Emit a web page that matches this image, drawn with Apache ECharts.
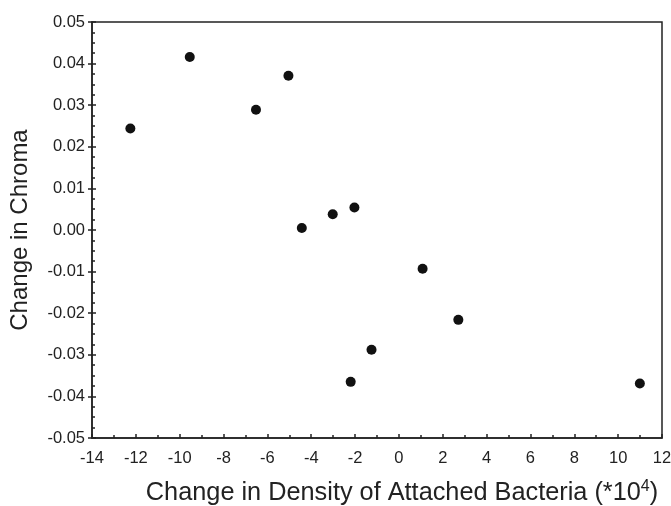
<!DOCTYPE html>
<html>
<head>
<meta charset="utf-8">
<script src="https://cdn.jsdelivr.net/npm/echarts@6/dist/echarts.min.js"></script>
<style>html,body{margin:0;padding:0;background:#fff}#c{width:671px;height:506px}</style>
</head>
<body>
<div id="c"></div>
<script>
const xValues = [-12.25, -9.54, -6.52, -5.04, -4.43, -3.02, -2.03, 1.08, 2.71, -1.25, -2.2, 10.99];
const yValues = [0.0244, 0.0416, 0.0289, 0.0371, 0.0005, 0.0038, 0.0054, -0.0093, -0.0216, -0.0288, -0.0365, -0.0369];
const xTitle = 'Change in Density of Attached Bacteria (*10';
const yTitle = 'Change in Chroma';

const points = xValues.map((x, i) => [x, yValues[i]]);
const font = '"Liberation Sans", Arial, sans-serif';
const ink = '#222';

const chart = echarts.init(document.getElementById('c'), null, {renderer: 'canvas'});
chart.setOption({
  animation: false,
  backgroundColor: '#fff',
  grid: {left: 92, right: 9, top: 22, bottom: 68, outerBoundsMode: 'none', containLabel: false,
    show: true, borderColor: ink, borderWidth: 1.5, backgroundColor: 'transparent'},
  xAxis: {
    type: 'value', min: -14, max: 12, interval: 2,
    name: xTitle + '{sup|4})', nameLocation: 'middle', nameGap: 41,
    nameTextStyle: {fontFamily: font, fontSize: 25.3, color: ink, padding: [0, 0, 0, 50],
      rich: {sup: {fontFamily: font, fontSize: 16, color: ink, padding: [0, 0, 13, 0]}}},
    axisLine: {show: true, onZero: false, lineStyle: {color: ink, width: 1.5}},
    axisTick: {show: true, inside: true, length: 4, lineStyle: {color: ink, width: 1.5}},
    minorTick: {show: true, splitNumber: 2, length: 3, lineStyle: {color: ink, width: 1.5}},
    axisLabel: {fontFamily: font, fontSize: 16.5, color: ink, margin: 12},
    splitLine: {show: false}
  },
  yAxis: [{
    type: 'value', min: -0.05, max: 0.05, interval: 0.01,
    name: yTitle, nameLocation: 'middle', nameGap: 60, nameRotate: 90,
    nameTextStyle: {fontFamily: font, fontSize: 24, color: ink},
    axisLine: {show: true, onZero: false, lineStyle: {color: ink, width: 1.5}},
    axisTick: {show: true, inside: false, length: 4, lineStyle: {color: ink, width: 1.5}},
    axisLabel: {fontFamily: font, fontSize: 16.5, color: ink, margin: 7,
      formatter: v => v.toFixed(2)},
    splitLine: {show: false}
  }, {
    type: 'value', min: -0.05, max: 0.05, interval: 0.01, position: 'left',
    axisLine: {show: false, onZero: false},
    axisTick: {show: true, inside: true, length: 4, lineStyle: {color: ink, width: 1.5}},
    minorTick: {show: true, splitNumber: 4, length: 3, lineStyle: {color: ink, width: 1.5}},
    axisLabel: {show: false},
    splitLine: {show: false}
  }],
  series: [{
    type: 'scatter', data: points, symbol: 'circle', symbolSize: 10,
    itemStyle: {color: '#111', opacity: 1}
  }]
});
</script>
</body>
</html>
